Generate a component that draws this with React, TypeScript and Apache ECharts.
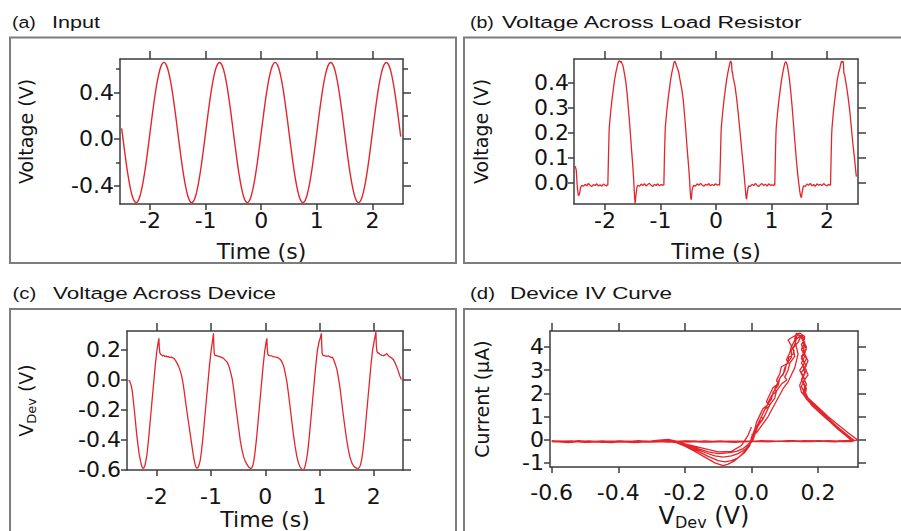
import React, { useEffect, useRef } from 'react';
import * as echarts from 'echarts';

// ---------- tick values ----------
const timeTicks = [-2, -1, 0, 1, 2];
const inputMajorTicks = [-0.4, 0, 0.4];
const inputMinorTicks = [-0.2, 0.2, 0.6];
const loadTicks = [0, 0.1, 0.2, 0.3, 0.4];
const deviceTicks = [-0.6, -0.4, -0.2, 0, 0.2];
const ivVoltTicks = [-0.6, -0.4, -0.2, 0, 0.2];
const ivCurrentTicks = [-1, 0, 1, 2, 3, 4];

// ---------- (a) input voltage [time s, V] ----------
const inputSignal: [number, number][] = [
  [-2.51, 0.09],
  [-2.5, 0.055], [-2.45, -0.13], [-2.4, -0.298], [-2.35, -0.43], [-2.3, -0.516], [-2.25, -0.545], [-2.2, -0.516], [-2.15, -0.43], [-2.1, -0.298], [-2.05, -0.13],
  [-2.0, 0.055], [-1.95, 0.24], [-1.9, 0.408], [-1.85, 0.54], [-1.8, 0.626], [-1.75, 0.656], [-1.7, 0.626], [-1.65, 0.54], [-1.6, 0.408], [-1.55, 0.24],
  [-1.5, 0.055], [-1.45, -0.13], [-1.4, -0.298], [-1.35, -0.43], [-1.3, -0.516], [-1.25, -0.546], [-1.2, -0.516], [-1.15, -0.43], [-1.1, -0.298], [-1.05, -0.13],
  [-1.0, 0.055], [-0.95, 0.24], [-0.9, 0.408], [-0.85, 0.54], [-0.8, 0.626], [-0.75, 0.655], [-0.7, 0.626], [-0.65, 0.54], [-0.6, 0.408], [-0.55, 0.24],
  [-0.5, 0.055], [-0.45, -0.13], [-0.4, -0.298], [-0.35, -0.43], [-0.3, -0.516], [-0.25, -0.545], [-0.2, -0.516], [-0.15, -0.43], [-0.1, -0.298], [-0.05, -0.13],
  [0.0, 0.055], [0.05, 0.24], [0.1, 0.408], [0.15, 0.54], [0.2, 0.626], [0.25, 0.656], [0.3, 0.626], [0.35, 0.54], [0.4, 0.408], [0.45, 0.24],
  [0.5, 0.055], [0.55, -0.13], [0.6, -0.298], [0.65, -0.43], [0.7, -0.516], [0.75, -0.545], [0.8, -0.516], [0.85, -0.43], [0.9, -0.298], [0.95, -0.13],
  [1.0, 0.055], [1.05, 0.24], [1.1, 0.408], [1.15, 0.54], [1.2, 0.626], [1.25, 0.655], [1.3, 0.626], [1.35, 0.54], [1.4, 0.408], [1.45, 0.24],
  [1.5, 0.055], [1.55, -0.13], [1.6, -0.298], [1.65, -0.43], [1.7, -0.516], [1.75, -0.545], [1.8, -0.516], [1.85, -0.43], [1.9, -0.298], [1.95, -0.13],
  [2.0, 0.055], [2.05, 0.24], [2.1, 0.408], [2.15, 0.54], [2.2, 0.626], [2.25, 0.655], [2.3, 0.626], [2.35, 0.54], [2.4, 0.408], [2.45, 0.24],
  [2.5, 0.055], [2.51, 0.02],
];

// ---------- (b) voltage across load resistor [time s, V] ----------
const loadSignal: [number, number][] = [
  [-2.54, 0.065], [-2.52, 0.05], [-2.5, -0.02], [-2.48, -0.055], [-2.46, -0.045], [-2.44, -0.02], [-2.42, -0.012],
  [-2.39, -0.016], [-2.36, -0.008], [-2.33, -0.014], [-2.3, -0.004], [-2.27, -0.012], [-2.24, -0.017], [-2.21, -0.009], [-2.18, -0.013],
  [-2.15, -0.006], [-2.12, -0.015], [-2.09, -0.01], [-2.06, -0.016], [-2.03, -0.007], [-2.0, -0.012], [-1.97, -0.014], [-1.955, -0.008],
  [-1.95, -0.012], [-1.94, 0.09], [-1.93, 0.18], [-1.924, 0.22], [-1.9, 0.28], [-1.876, 0.33], [-1.85, 0.375], [-1.829, 0.41],
  [-1.806, 0.44], [-1.786, 0.46], [-1.77, 0.475], [-1.757, 0.485], [-1.74, 0.488], [-1.725, 0.482], [-1.71, 0.486], [-1.696, 0.478],
  [-1.68, 0.47], [-1.666, 0.455], [-1.645, 0.43], [-1.624, 0.4], [-1.6, 0.35], [-1.577, 0.29], [-1.555, 0.23], [-1.535, 0.17],
  [-1.517, 0.115], [-1.499, 0.063], [-1.485, 0.015], [-1.475, -0.03], [-1.466, -0.065], [-1.457, -0.084], [-1.448, -0.06], [-1.439, -0.044],
  [-1.425, -0.02], [-1.409, -0.012],
  [-1.38, -0.016], [-1.35, -0.007], [-1.32, -0.013], [-1.29, -0.005], [-1.26, -0.015], [-1.23, -0.009], [-1.2, -0.004], [-1.17, -0.012],
  [-1.14, -0.017], [-1.11, -0.008], [-1.08, -0.013], [-1.05, -0.006], [-1.02, -0.014], [-0.99, -0.009], [-0.96, -0.012], [-0.945, -0.008],
  [-0.94, -0.012], [-0.93, 0.1], [-0.92, 0.18], [-0.914, 0.22], [-0.89, 0.28], [-0.866, 0.33], [-0.84, 0.375], [-0.819, 0.41],
  [-0.796, 0.44], [-0.776, 0.46], [-0.76, 0.478], [-0.747, 0.486], [-0.73, 0.482], [-0.715, 0.47], [-0.7, 0.46], [-0.686, 0.452],
  [-0.67, 0.44], [-0.656, 0.42], [-0.635, 0.395], [-0.614, 0.37], [-0.59, 0.33], [-0.567, 0.27], [-0.545, 0.21], [-0.525, 0.15],
  [-0.507, 0.1], [-0.489, 0.05], [-0.475, 0.005], [-0.465, -0.035], [-0.456, -0.06], [-0.447, -0.07], [-0.438, -0.05], [-0.429, -0.03],
  [-0.415, -0.018], [-0.4, -0.012],
  [-0.37, -0.015], [-0.34, -0.006], [-0.31, -0.012], [-0.28, -0.004], [-0.25, -0.011], [-0.22, -0.016], [-0.19, -0.008], [-0.16, -0.012],
  [-0.13, -0.005], [-0.1, -0.014], [-0.07, -0.009], [-0.04, -0.013], [-0.01, -0.006], [0.02, -0.011], [0.05, -0.009], [0.065, -0.012],
  [0.07, -0.012], [0.08, 0.1], [0.09, 0.19], [0.096, 0.22], [0.12, 0.28], [0.144, 0.33], [0.17, 0.375], [0.191, 0.41],
  [0.214, 0.44], [0.234, 0.462], [0.25, 0.478], [0.263, 0.487], [0.28, 0.478], [0.29, 0.44], [0.296, 0.445], [0.31, 0.42],
  [0.34, 0.39], [0.37, 0.34], [0.4, 0.28], [0.43, 0.21], [0.46, 0.14], [0.49, 0.07], [0.515, 0.01], [0.53, -0.03],
  [0.542, -0.06], [0.552, -0.068], [0.562, -0.045], [0.575, -0.025], [0.59, -0.014],
  [0.62, -0.016], [0.65, -0.008], [0.68, -0.013], [0.71, -0.004], [0.74, -0.012], [0.77, -0.017], [0.8, -0.009], [0.83, -0.005],
  [0.86, -0.013], [0.89, -0.008], [0.92, -0.015], [0.95, -0.006], [0.98, -0.012], [1.01, -0.01], [1.04, -0.014], [1.055, -0.006],
  [1.06, -0.012], [1.07, 0.1], [1.08, 0.19], [1.086, 0.22], [1.11, 0.28], [1.134, 0.33], [1.16, 0.375], [1.181, 0.41],
  [1.204, 0.44], [1.224, 0.462], [1.24, 0.478], [1.253, 0.484], [1.27, 0.48], [1.285, 0.47], [1.3, 0.45], [1.32, 0.42],
  [1.345, 0.37], [1.37, 0.31], [1.395, 0.24], [1.42, 0.17], [1.445, 0.1], [1.47, 0.04], [1.49, 0.0], [1.51, -0.035],
  [1.525, -0.055], [1.54, -0.062], [1.55, -0.045], [1.565, -0.025], [1.58, -0.014],
  [1.61, -0.016], [1.64, -0.007], [1.67, -0.012], [1.7, -0.004], [1.73, -0.014], [1.76, -0.009], [1.79, -0.016], [1.82, -0.006],
  [1.85, -0.012], [1.88, -0.008], [1.91, -0.013], [1.94, -0.005], [1.97, -0.011], [2.0, -0.015], [2.03, -0.008], [2.055, -0.012],
  [2.065, -0.01], [2.075, 0.1], [2.085, 0.19], [2.092, 0.22], [2.115, 0.28], [2.14, 0.33], [2.165, 0.375], [2.186, 0.41],
  [2.21, 0.44], [2.23, 0.455], [2.245, 0.47], [2.26, 0.485], [2.275, 0.482], [2.29, 0.487], [2.3, 0.47], [2.305, 0.44],
  [2.32, 0.43], [2.35, 0.39], [2.38, 0.344], [2.41, 0.29], [2.44, 0.22], [2.47, 0.15], [2.5, 0.09], [2.515, 0.055], [2.53, 0.023],
];

// ---------- (c) voltage across device [time s, V] ----------
const deviceSignal: [number, number][] = [
  [-2.52, -0.005], [-2.5, -0.01], [-2.48, -0.03], [-2.455, -0.07], [-2.43, -0.15], [-2.41, -0.22], [-2.394, -0.28], [-2.37, -0.37],
  [-2.35, -0.43], [-2.325, -0.5], [-2.3, -0.545], [-2.28, -0.578], [-2.26, -0.593], [-2.24, -0.59],
  [-2.22, -0.575], [-2.2, -0.54], [-2.18, -0.496], [-2.15, -0.39], [-2.12, -0.27], [-2.09, -0.148], [-2.06, -0.03], [-2.03, 0.09],
  [-2.0, 0.19], [-1.975, 0.25], [-1.962, 0.276], [-1.955, 0.22], [-1.945, 0.18], [-1.93, 0.17],
  [-1.91, 0.165], [-1.89, 0.158], [-1.87, 0.162], [-1.85, 0.155], [-1.83, 0.158], [-1.81, 0.152], [-1.79, 0.155], [-1.77, 0.148],
  [-1.73, 0.15], [-1.69, 0.143], [-1.66, 0.13], [-1.63, 0.112], [-1.6, 0.09], [-1.57, 0.06], [-1.55, 0.035], [-1.53, 0.004],
  [-1.51, -0.04], [-1.49, -0.09], [-1.47, -0.148], [-1.44, -0.225], [-1.41, -0.3], [-1.38, -0.375], [-1.35, -0.45], [-1.325, -0.51],
  [-1.3, -0.56], [-1.28, -0.583], [-1.26, -0.593], [-1.24, -0.588],
  [-1.22, -0.57], [-1.2, -0.54], [-1.18, -0.49], [-1.15, -0.39], [-1.12, -0.27], [-1.09, -0.15], [-1.06, -0.03], [-1.03, 0.09],
  [-1.0, 0.19], [-0.975, 0.255], [-0.955, 0.309], [-0.948, 0.22], [-0.94, 0.175], [-0.925, 0.162],
  [-0.9, 0.16], [-0.86, 0.155], [-0.82, 0.15], [-0.78, 0.145], [-0.74, 0.13], [-0.7, 0.115], [-0.67, 0.09], [-0.64, 0.05],
  [-0.61, 0.004], [-0.58, -0.07], [-0.56, -0.13], [-0.54, -0.19], [-0.52, -0.245], [-0.5, -0.3], [-0.48, -0.355], [-0.46, -0.41],
  [-0.43, -0.47], [-0.4, -0.515], [-0.37, -0.545], [-0.34, -0.565], [-0.31, -0.582], [-0.28, -0.592], [-0.265, -0.595], [-0.25, -0.59],
  [-0.23, -0.575], [-0.21, -0.54], [-0.19, -0.49], [-0.16, -0.39], [-0.13, -0.27], [-0.1, -0.15], [-0.07, -0.03], [-0.04, 0.09],
  [-0.01, 0.19], [0.015, 0.25], [0.03, 0.276], [0.037, 0.21], [0.045, 0.172], [0.06, 0.162],
  [0.08, 0.16], [0.12, 0.158], [0.16, 0.152], [0.2, 0.15], [0.24, 0.145], [0.28, 0.135], [0.31, 0.115], [0.34, 0.09],
  [0.37, 0.04], [0.4, -0.017], [0.43, -0.1], [0.46, -0.19], [0.49, -0.28], [0.52, -0.37], [0.552, -0.45], [0.58, -0.51],
  [0.61, -0.555], [0.64, -0.583], [0.67, -0.598], [0.7, -0.604], [0.72, -0.595],
  [0.74, -0.57], [0.76, -0.535], [0.78, -0.49], [0.81, -0.39], [0.84, -0.27], [0.87, -0.15], [0.9, -0.03], [0.93, 0.09],
  [0.96, 0.19], [0.99, 0.25], [1.015, 0.28], [1.035, 0.309], [1.042, 0.22], [1.05, 0.175], [1.065, 0.162],
  [1.09, 0.16], [1.13, 0.155], [1.17, 0.158], [1.21, 0.148], [1.24, 0.15], [1.26, 0.135], [1.29, 0.105], [1.32, 0.07],
  [1.35, 0.01], [1.38, -0.06], [1.41, -0.15], [1.44, -0.24], [1.47, -0.32], [1.5, -0.4], [1.53, -0.465], [1.56, -0.517],
  [1.6, -0.56], [1.64, -0.582], [1.68, -0.592], [1.72, -0.593], [1.74, -0.585],
  [1.76, -0.565], [1.78, -0.53], [1.8, -0.48], [1.83, -0.38], [1.86, -0.26], [1.89, -0.14], [1.92, -0.02], [1.95, 0.1],
  [1.98, 0.2], [2.01, 0.26], [2.04, 0.32], [2.048, 0.23], [2.058, 0.19], [2.075, 0.178],
  [2.09, 0.178], [2.12, 0.168], [2.15, 0.162], [2.18, 0.16], [2.21, 0.165], [2.24, 0.174], [2.27, 0.16], [2.3, 0.152],
  [2.33, 0.145], [2.36, 0.135], [2.39, 0.115], [2.42, 0.09], [2.45, 0.06], [2.48, 0.026], [2.51, 0.0],
];

// ---------- (d) device IV curve [V_Dev V, current uA] ----------
const ivStart: [number, number][] = [
  [0.0, 0.55], [-0.01, 0.2], [-0.03, -0.25], [-0.06, -0.5], [-0.1, -0.52], [-0.15, -0.35], [-0.2, -0.18], [-0.25, -0.08],
  [-0.3, -0.1], [-0.4, -0.06], [-0.5, -0.09], [-0.6, -0.07],
];
const ivLoop1: [number, number][] = [
  [-0.59, -0.08], [-0.55, -0.12], [-0.5, -0.06], [-0.45, -0.1], [-0.4, -0.05], [-0.35, -0.11], [-0.3, -0.07], [-0.25, -0.1],
  [-0.2, -0.06], [-0.15, -0.1], [-0.1, -0.08], [-0.05, -0.11], [0.0, -0.06], [0.05, -0.09], [0.1, -0.05], [0.15, -0.08],
  [0.2, -0.06], [0.25, -0.09], [0.3, -0.05],
  [0.31, -0.05], [0.28, 0.3], [0.25, 0.65], [0.22, 1.0], [0.19, 1.38], [0.165, 1.75], [0.155, 2.0],
  [0.16, 2.3], [0.15, 2.6], [0.16, 2.9], [0.155, 3.2], [0.165, 3.5], [0.155, 3.8], [0.16, 4.1], [0.15, 4.4], [0.14, 4.55],
  [0.13, 4.3], [0.12, 4.0], [0.128, 3.85], [0.125, 3.7], [0.112, 3.55], [0.11, 3.4], [0.104, 3.2], [0.1, 3.1], [0.095, 2.8],
  [0.088, 2.72], [0.08, 2.5], [0.07, 2.2], [0.074, 2.08], [0.06, 1.9], [0.05, 1.6], [0.055, 1.48], [0.04, 1.3],
  [0.03, 1.0], [0.034, 0.88], [0.02, 0.7], [0.01, 0.4], [0.0, 0.05],
  [-0.01, -0.3], [-0.03, -0.65], [-0.05, -0.9], [-0.07, -1.05], [-0.085, -1.12], [-0.11, -1.0], [-0.14, -0.75], [-0.17, -0.5],
  [-0.2, -0.28], [-0.23, -0.1], [-0.26, -0.02],
  [-0.3, -0.06], [-0.35, -0.09], [-0.4, -0.05], [-0.45, -0.1], [-0.5, -0.07], [-0.55, -0.1], [-0.6, -0.07],
];
const ivLoop2: [number, number][] = [
  [-0.6, -0.06], [-0.56, -0.1], [-0.52, -0.04], [-0.47, -0.09], [-0.42, -0.12], [-0.37, -0.06], [-0.32, -0.1], [-0.27, -0.05],
  [-0.22, -0.09], [-0.17, -0.06], [-0.12, -0.1], [-0.07, -0.07], [-0.02, -0.09], [0.03, -0.04], [0.08, -0.07], [0.13, -0.05],
  [0.18, -0.08], [0.23, -0.04], [0.27, -0.06], [0.3, -0.03],
  [0.29, 0.1], [0.26, 0.45], [0.23, 0.85], [0.2, 1.25], [0.175, 1.6], [0.15, 2.05],
  [0.145, 2.35], [0.155, 2.7], [0.145, 3.0], [0.16, 3.3], [0.15, 3.6], [0.165, 3.9], [0.155, 4.2], [0.16, 4.45], [0.145, 4.6],
  [0.12, 4.4], [0.11, 4.3], [0.12, 4.05], [0.115, 3.75], [0.105, 3.45], [0.112, 3.32], [0.09, 3.15], [0.085, 2.85], [0.075, 2.55],
  [0.082, 2.42], [0.065, 2.25], [0.055, 1.95], [0.045, 1.65], [0.05, 1.52], [0.035, 1.35], [0.025, 1.05], [0.015, 0.75],
  [0.01, 0.45], [0.0, 0.1],
  [-0.005, -0.25], [-0.02, -0.55], [-0.04, -0.78], [-0.06, -0.9], [-0.08, -0.95], [-0.1, -0.9], [-0.13, -0.72], [-0.16, -0.5],
  [-0.19, -0.3], [-0.22, -0.13], [-0.25, -0.03],
  [-0.29, -0.07], [-0.34, -0.11], [-0.39, -0.06], [-0.44, -0.09], [-0.49, -0.05], [-0.54, -0.1], [-0.59, -0.07],
];
const ivLoop3: [number, number][] = [
  [-0.59, -0.1], [-0.54, -0.05], [-0.49, -0.11], [-0.44, -0.07], [-0.39, -0.1], [-0.34, -0.04], [-0.29, -0.09], [-0.24, -0.06],
  [-0.19, -0.1], [-0.14, -0.05], [-0.09, -0.09], [-0.04, -0.06], [0.01, -0.08], [0.06, -0.05], [0.11, -0.08], [0.16, -0.04],
  [0.21, -0.07], [0.26, -0.05], [0.295, -0.03],
  [0.3, 0.0], [0.27, 0.35], [0.24, 0.72], [0.21, 1.1], [0.18, 1.5], [0.16, 1.9],
  [0.165, 2.2], [0.155, 2.5], [0.17, 2.8], [0.16, 3.1], [0.17, 3.4], [0.16, 3.7], [0.165, 4.0], [0.155, 4.3], [0.15, 4.5],
  [0.14, 4.2], [0.125, 3.95], [0.13, 3.6], [0.115, 3.3], [0.11, 3.0], [0.1, 2.7], [0.106, 2.58], [0.09, 2.4], [0.075, 2.1],
  [0.07, 1.8], [0.055, 1.5], [0.045, 1.2], [0.04, 1.05], [0.035, 0.9], [0.02, 0.6], [0.012, 0.3], [0.005, 0.0],
  [-0.005, -0.2], [-0.02, -0.42], [-0.04, -0.6], [-0.06, -0.7], [-0.085, -0.75], [-0.11, -0.7], [-0.14, -0.55], [-0.17, -0.38],
  [-0.2, -0.22], [-0.23, -0.08], [-0.26, 0.0],
  [-0.3, -0.05], [-0.35, -0.09], [-0.4, -0.06], [-0.45, -0.11], [-0.5, -0.06], [-0.55, -0.09], [-0.6, -0.05],
];
const ivLoop4: [number, number][] = [
  [-0.6, -0.08], [-0.55, -0.06], [-0.5, -0.1], [-0.45, -0.05], [-0.4, -0.08], [-0.35, -0.12], [-0.3, -0.06], [-0.25, -0.08],
  [-0.2, -0.05], [-0.15, -0.09], [-0.1, -0.06], [-0.05, -0.08], [0.0, -0.05], [0.05, -0.08], [0.1, -0.06], [0.15, -0.07],
  [0.2, -0.04], [0.25, -0.06], [0.3, -0.08],
  [0.305, -0.05], [0.27, 0.4], [0.24, 0.8], [0.21, 1.2], [0.18, 1.6], [0.16, 2.0],
  [0.15, 2.3], [0.16, 2.6], [0.15, 2.9], [0.165, 3.2], [0.15, 3.5], [0.16, 3.8], [0.15, 4.1], [0.16, 4.35], [0.15, 4.5],
  [0.135, 4.35], [0.13, 4.1], [0.12, 3.85], [0.12, 3.55], [0.105, 3.25], [0.1, 2.95], [0.085, 2.65], [0.08, 2.35],
  [0.065, 2.05], [0.06, 1.75], [0.045, 1.45], [0.035, 1.15], [0.025, 0.85], [0.015, 0.55], [0.008, 0.25], [0.0, -0.05],
  [-0.01, -0.2], [-0.025, -0.38], [-0.045, -0.5], [-0.07, -0.57], [-0.1, -0.6], [-0.13, -0.52], [-0.16, -0.38], [-0.19, -0.22],
  [-0.22, -0.08], [-0.25, 0.02],
  [-0.3, -0.06], [-0.35, -0.1], [-0.4, -0.05], [-0.45, -0.08], [-0.5, -0.11], [-0.55, -0.06], [-0.6, -0.09],
];
const ivLoop5: [number, number][] = [
  [-0.59, -0.07], [-0.54, -0.1], [-0.49, -0.06], [-0.44, -0.09], [-0.39, -0.05], [-0.34, -0.1], [-0.29, -0.07], [-0.24, -0.09],
  [-0.19, -0.05], [-0.14, -0.08], [-0.09, -0.06], [-0.04, -0.1], [0.01, -0.06], [0.06, -0.08], [0.11, -0.04], [0.16, -0.07],
  [0.21, -0.05], [0.26, -0.07], [0.3, -0.04],
  [0.32, -0.02], [0.29, 0.3], [0.26, 0.65], [0.23, 1.0], [0.2, 1.4], [0.17, 1.8], [0.16, 2.1],
  [0.165, 2.4], [0.155, 2.7], [0.165, 3.0], [0.15, 3.3], [0.16, 3.6], [0.15, 3.9], [0.16, 4.2], [0.15, 4.45], [0.135, 4.6],
  [0.13, 4.35], [0.135, 4.0], [0.14, 3.7], [0.135, 3.4], [0.13, 3.1], [0.12, 2.8], [0.11, 2.5], [0.095, 2.2],
  [0.08, 1.8], [0.065, 1.4], [0.05, 1.0], [0.03, 0.6], [0.015, 0.3], [0.0, 0.2],
];

// ---------- styling ----------
const AXFONT = '"DejaVu Sans", "Liberation Sans", Arial, sans-serif';
const TFONT = '"Liberation Sans", Arial, Helvetica, sans-serif';
const TXT = '#141414';
const RED = '#e3262b';
const AXIS = '#3c3c3c';
const BOX = '#7d7d7d';
const TICK_FS = 22;
const XNAME_FS = 22;
const YNAME_FS = 19;
const TITLE_FS = 17;

const fmtTime = (v: number) => `${Math.round(v)}`;
const fmt1 = (v: number) => (Math.abs(v) < 1e-9 ? '0.0' : v.toFixed(1));
const fmtInt = (v: number) => `${Math.round(v)}`;

function xPair(grid: number, min: number, max: number, ticks: number[], fmt: (v: number) => string,
  name: string, nameGap: number, margin: number, rich?: any) {
  const line = { show: true, onZero: false, lineStyle: { color: AXIS, width: 1.5 } };
  return [
    {
      type: 'value', gridIndex: grid, position: 'bottom', min, max,
      axisLine: line,
      axisTick: { show: true, inside: false, length: 6, customValues: ticks, lineStyle: { color: AXIS, width: 1.5 } },
      axisLabel: { show: true, customValues: ticks, formatter: fmt, margin, fontSize: TICK_FS, fontFamily: AXFONT, color: TXT },
      splitLine: { show: false },
      name, nameLocation: 'middle', nameGap,
      nameTextStyle: { fontSize: XNAME_FS, fontFamily: AXFONT, color: TXT, rich },
    },
    {
      type: 'value', gridIndex: grid, position: 'top', min, max,
      axisLine: line,
      axisTick: { show: true, inside: false, length: 8, customValues: ticks, lineStyle: { color: AXIS, width: 1.5 } },
      axisLabel: { show: false },
      splitLine: { show: false },
    },
  ];
}

function yPair(grid: number, min: number, max: number, ticks: number[], fmt: (v: number) => string,
  name: string, nameGap: number, margin: number, rich?: any) {
  const line = { show: true, onZero: false, lineStyle: { color: AXIS, width: 1.5 } };
  return [
    {
      type: 'value', gridIndex: grid, position: 'left', min, max,
      axisLine: line,
      axisTick: { show: true, inside: false, length: 6, customValues: ticks, lineStyle: { color: AXIS, width: 1.5 } },
      axisLabel: { show: true, customValues: ticks, formatter: fmt, margin, fontSize: TICK_FS, fontFamily: AXFONT, color: TXT },
      splitLine: { show: false },
      name, nameLocation: 'middle', nameGap, nameRotate: 90,
      nameTextStyle: { fontSize: YNAME_FS, fontFamily: AXFONT, color: TXT, rich },
    },
    {
      type: 'value', gridIndex: grid, position: 'right', min, max,
      axisLine: line,
      axisTick: { show: true, inside: false, length: 8, customValues: ticks, lineStyle: { color: AXIS, width: 1.5 } },
      axisLabel: { show: false },
      splitLine: { show: false },
    },
  ];
}

function minorY(grid: number, min: number, max: number, ticks: number[], position: string, length: number) {
  return {
    type: 'value', gridIndex: grid, position, min, max,
    axisLine: { show: false, onZero: false },
    axisTick: { show: true, inside: false, length, customValues: ticks, lineStyle: { color: AXIS, width: 1.5 } },
    axisLabel: { show: false },
    splitLine: { show: false },
  };
}

const devRichY = {
  m: { fontSize: YNAME_FS, fontFamily: AXFONT, color: TXT, lineHeight: 24 },
  s: { fontSize: 13, fontFamily: AXFONT, color: TXT, lineHeight: 10, verticalAlign: 'bottom' },
};
const devRichX = {
  m: { fontSize: 24, fontFamily: AXFONT, color: TXT, lineHeight: 28 },
  s: { fontSize: 16, fontFamily: AXFONT, color: TXT, lineHeight: 12, verticalAlign: 'bottom' },
};

function titleText(x: number, y: number, text: string, sx: number) {
  return {
    type: 'text', x, y, scaleX: sx, silent: true,
    style: { text, fontSize: TITLE_FS, fontFamily: TFONT, fill: TXT, textVerticalAlign: 'middle' },
  };
}

function boxRect(x: number, y: number, w: number, h: number) {
  return {
    type: 'rect', silent: true,
    shape: { x, y, width: w, height: h },
    style: { fill: 'none', stroke: BOX, lineWidth: 2 },
  };
}

export default function App() {
  const ref = useRef<HTMLDivElement>(null);

  useEffect(() => {
    if (!ref.current) return;
    const chart = echarts.init(ref.current, undefined, { renderer: 'svg' });

    const aX = xPair(0, -2.54, 2.55, timeTicks, fmtTime, 'Time (s)', 36, 5);
    const bX = xPair(1, -2.56, 2.56, timeTicks, fmtTime, 'Time (s)', 36, 5);
    const cX = xPair(2, -2.55, 2.54, timeTicks, fmtTime, 'Time (s)', 35, 15);
    const dX = xPair(3, -0.605, 0.32, ivVoltTicks, fmt1, '{m|V}{s|Dev}{m| (V)}', 33, 14, devRichX);

    const aY = yPair(0, -0.557, 0.685, inputMajorTicks, fmt1, 'Voltage (V)', 85, 6);
    const bY = yPair(1, -0.087, 0.495, loadTicks, fmt1, 'Voltage (V)', 84, 5);
    const cY = yPair(2, -0.605, 0.325, deviceTicks, fmt1, '{m|V}{s|Dev}{m| (V)}', 89, 6, devRichY);
    const dY = yPair(3, -1.18, 4.69, ivCurrentTicks, fmtInt, 'Current (\u03bcA)', 59, 6);

    const option: any = {
      animation: false,
      backgroundColor: '#ffffff',
      grid: [
        { left: 120, top: 59, width: 283, height: 145 },
        { left: 574, top: 59, width: 284, height: 145 },
        { left: 127, top: 331, width: 276, height: 143 },
        { left: 550, top: 331, width: 308, height: 140 },
      ],
      xAxis: [...aX, ...bX, ...cX, ...dX],
      yAxis: [
        ...aY,
        minorY(0, -0.557, 0.685, inputMinorTicks, 'left', 4),
        minorY(0, -0.557, 0.685, inputMinorTicks, 'right', 5),
        ...bY, ...cY, ...dY,
      ],
      series: [
        {
          type: 'line', xAxisIndex: 0, yAxisIndex: 0, data: inputSignal, showSymbol: false, smooth: 0.4,
          lineStyle: { color: RED, width: 1.4 }, silent: true,
        },
        {
          type: 'line', xAxisIndex: 2, yAxisIndex: 4, data: loadSignal, showSymbol: false,
          lineStyle: { color: RED, width: 1.3 }, silent: true,
        },
        {
          type: 'line', xAxisIndex: 4, yAxisIndex: 6, data: deviceSignal, showSymbol: false,
          lineStyle: { color: RED, width: 1.3 }, silent: true,
        },
        {
          type: 'line', xAxisIndex: 6, yAxisIndex: 8,
          data: [...ivStart, ...ivLoop1, ...ivLoop2, ...ivLoop3, ...ivLoop4, ...ivLoop5],
          showSymbol: false, lineStyle: { color: RED, width: 1.3 }, silent: true,
        },
      ],
      graphic: [
        boxRect(10, 37.5, 446, 225.5),
        boxRect(464, 37.5, 450, 225.5),
        boxRect(10, 309, 446, 240),
        boxRect(464, 309, 450, 240),
        titleText(12, 22, '(a)', 1.15),
        titleText(52, 22, 'Input', 1.27),
        titleText(470, 22, '(b)', 1.15),
        titleText(502, 22, 'Voltage Across Load Resistor', 1.35),
        titleText(12.5, 293, '(c)', 1.2),
        titleText(53, 293, 'Voltage Across Device', 1.32),
        titleText(470, 293, '(d)', 1.2),
        titleText(510, 293, 'Device IV Curve', 1.32),
      ],
    };

    chart.setOption(option);
    return () => chart.dispose();
  }, []);

  return (
    <div
      ref={ref}
      style={{ position: 'fixed', left: 0, top: 0, width: 901, height: 531, background: '#fff' }}
    />
  );
}
